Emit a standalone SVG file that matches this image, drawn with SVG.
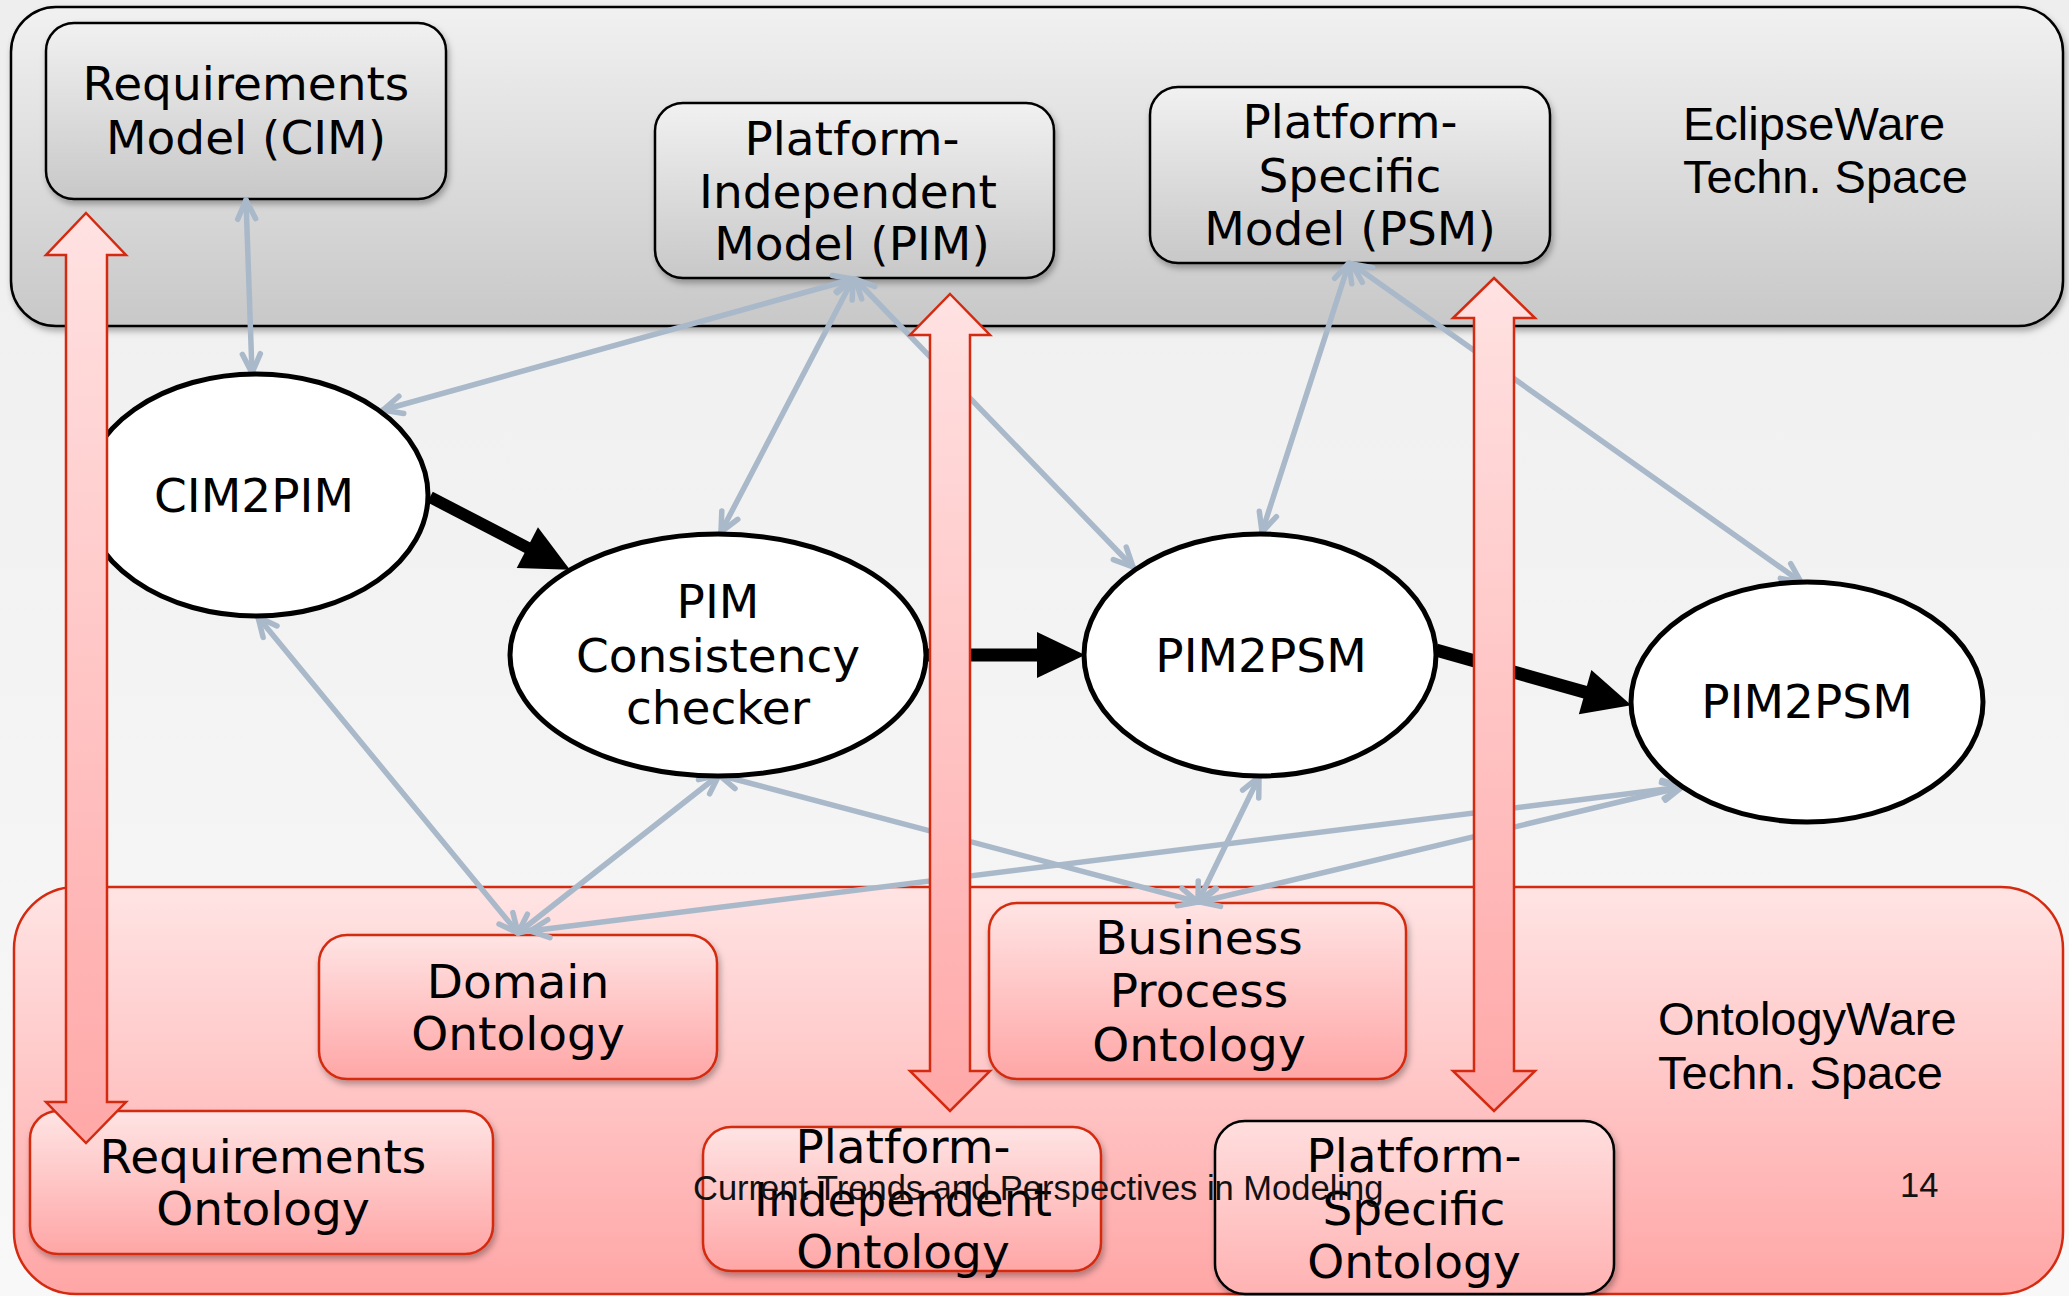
<svg xmlns="http://www.w3.org/2000/svg" width="2069" height="1296" viewBox="0 0 2069 1296">
  <defs>
    <linearGradient id="bg" x1="0" y1="0" x2="0" y2="1">
      <stop offset="0" stop-color="#eeeeee"/>
      <stop offset="1" stop-color="#f8f8f8"/>
    </linearGradient>
    <linearGradient id="grayFill" x1="0" y1="0" x2="0" y2="1">
      <stop offset="0" stop-color="#f1f1f1"/>
      <stop offset="1" stop-color="#c8c8c8"/>
    </linearGradient>
    <linearGradient id="pinkFill" x1="0" y1="0" x2="0" y2="1">
      <stop offset="0" stop-color="#ffe4e4"/>
      <stop offset="1" stop-color="#ffa6a6"/>
    </linearGradient>
    <linearGradient id="pinkSoft" x1="0" y1="0" x2="0" y2="1">
      <stop offset="0" stop-color="#ffdede"/>
      <stop offset="1" stop-color="#ffb2b2"/>
    </linearGradient>
    <linearGradient id="arrowFill" x1="0" y1="0" x2="0" y2="1">
      <stop offset="0" stop-color="#ffe2e2"/>
      <stop offset="1" stop-color="#ffa8a8"/>
    </linearGradient>
    <filter id="shadow" x="-5%" y="-5%" width="110%" height="115%">
      <feDropShadow dx="2" dy="4" stdDeviation="3" flood-color="#000" flood-opacity="0.3"/>
    </filter>
    <marker id="vee" viewBox="-4 -4 28 26" refX="19" refY="9" markerWidth="28" markerHeight="26" markerUnits="userSpaceOnUse" orient="auto-start-reverse" overflow="visible">
      <path d="M0,0 L19,9 L0,18" fill="none" stroke="#a9b9ca" stroke-width="5.5" stroke-linecap="round" stroke-linejoin="round"/>
    </marker>
    <marker id="bold" viewBox="0 0 48 46" refX="3" refY="23" markerWidth="48" markerHeight="46" markerUnits="userSpaceOnUse" orient="auto" overflow="visible">
      <path d="M0,0 L48,23 L0,46 z" fill="#000"/>
    </marker>
    <style>
      .panel-gray { fill: url(#grayFill); stroke: #000; stroke-width: 2.5; }
      .panel-pink { fill: url(#pinkFill); stroke: #d42a10; stroke-width: 2.5; }
      .box-gray { fill: url(#grayFill); stroke: #000; stroke-width: 2.5; filter: url(#shadow); }
      .box-pink { fill: url(#pinkFill); stroke: #d42a10; stroke-width: 2.5; filter: url(#shadow); }
      .box-pink-dark { fill: url(#pinkSoft); stroke: #000; stroke-width: 2.5; filter: url(#shadow); }
      .proc { fill: #ffffff; stroke: #000; stroke-width: 5; }
      .lbl { font-family: "DejaVu Sans", Verdana, sans-serif; font-size: 47px; fill: #000; text-anchor: middle; }
      .space { font-family: "Liberation Sans", Arial, sans-serif; font-size: 47px; fill: #000; }
      .foot { font-family: "Liberation Sans", Arial, sans-serif; font-size: 34.5px; fill: #111; }
      .link { stroke: #a9b9ca; stroke-width: 5.5; stroke-linecap: round; fill: none; marker-start: url(#vee); marker-end: url(#vee); }
      .flow { stroke: #000; fill: none; marker-end: url(#bold); }
      .bridge { fill: url(#arrowFill); stroke: #d42a10; stroke-width: 2.5; }
    </style>
  </defs>

  <!-- slide background -->
  <rect x="0" y="0" width="2069" height="1296" fill="url(#bg)"/>

  <!-- technical spaces -->
  <g id="eclipseware-space">
    <rect class="panel-gray" x="11" y="7" width="2052" height="319" rx="45" ry="45" filter="url(#shadow)"/>
    <text class="space" x="1683" y="140">EclipseWare</text>
    <text class="space" x="1683" y="193">Techn. Space</text>
  </g>
  <g id="ontologyware-space">
    <rect class="panel-pink" x="14" y="887" width="2049" height="407" rx="62" ry="62"/>
    <text class="space" x="1658" y="1035">OntologyWare</text>
    <text class="space" x="1658" y="1089">Techn. Space</text>
  </g>

  <!-- models -->
  <g id="requirements-model">
    <rect class="box-gray" x="46" y="23" width="400" height="176" rx="28" ry="28"/>
    <text class="lbl" x="246" y="100">Requirements</text>
    <text class="lbl" x="246" y="154">Model (CIM)</text>
  </g>
  <g id="pim-model">
    <rect class="box-gray" x="655" y="103" width="399" height="175" rx="28" ry="28"/>
    <text class="lbl" x="852" y="155">Platform-</text>
    <text class="lbl" x="848" y="208">Independent</text>
    <text class="lbl" x="852" y="260">Model (PIM)</text>
  </g>
  <g id="psm-model">
    <rect class="box-gray" x="1150" y="87" width="400" height="176" rx="28" ry="28"/>
    <text class="lbl" x="1350" y="138">Platform-</text>
    <text class="lbl" x="1350" y="192">Specific</text>
    <text class="lbl" x="1350" y="245">Model (PSM)</text>
  </g>

  <!-- ontologies -->
  <g id="domain-ontology">
    <rect class="box-pink" x="319" y="935" width="398" height="144" rx="28" ry="28"/>
    <text class="lbl" x="518" y="998">Domain</text>
    <text class="lbl" x="518" y="1050">Ontology</text>
  </g>
  <g id="business-process-ontology">
    <rect class="box-pink" x="989" y="903" width="417" height="176" rx="28" ry="28"/>
    <text class="lbl" x="1199" y="954">Business</text>
    <text class="lbl" x="1199" y="1007">Process</text>
    <text class="lbl" x="1199" y="1061">Ontology</text>
  </g>
  <g id="requirements-ontology">
    <rect class="box-pink" x="30" y="1111" width="463" height="143" rx="28" ry="28"/>
    <text class="lbl" x="263" y="1173">Requirements</text>
    <text class="lbl" x="263" y="1225">Ontology</text>
  </g>
  <g id="pi-ontology">
    <rect class="box-pink" x="703" y="1127" width="398" height="144" rx="28" ry="28"/>
    <text class="lbl" x="903" y="1163">Platform-</text>
    <text class="lbl" x="903" y="1216">Independent</text>
    <text class="lbl" x="903" y="1268">Ontology</text>
  </g>
  <g id="ps-ontology">
    <rect class="box-pink-dark" x="1215" y="1121" width="399" height="173" rx="30" ry="30"/>
    <text class="lbl" x="1414" y="1172">Platform-</text>
    <text class="lbl" x="1414" y="1225">Specific</text>
    <text class="lbl" x="1414" y="1278">Ontology</text>
  </g>

  <!-- relations between models, ontologies and transformations -->
  <g id="connectors">
    <line class="link" x1="246" y1="200" x2="252" y2="373"/>
    <line class="link" x1="853" y1="279" x2="383" y2="410"/>
    <line class="link" x1="853" y1="279" x2="721" y2="532"/>
    <line class="link" x1="855" y1="279" x2="1133" y2="567"/>
    <line class="link" x1="1349" y1="263" x2="1262" y2="532"/>
    <line class="link" x1="1352" y1="264" x2="1801" y2="582"/>
    <line class="link" x1="258" y1="617" x2="518" y2="933"/>
    <line class="link" x1="719" y1="775" x2="518" y2="933"/>
    <line class="link" x1="530" y1="931" x2="1682" y2="787"/>
    <line class="link" x1="719" y1="775" x2="1198" y2="902"/>
    <line class="link" x1="1259" y1="777" x2="1198" y2="902"/>
    <line class="link" x1="1682" y1="787" x2="1200" y2="902"/>

    <!-- transformation chain -->
    <line class="flow" stroke-width="12" x1="430" y1="497" x2="530" y2="549"/>
    <line class="flow" stroke-width="13" x1="926" y1="655" x2="1040" y2="655"/>
    <line class="flow" stroke-width="13" x1="1436" y1="650" x2="1588" y2="693"/>
  </g>

  <!-- transformations -->
  <g id="cim2pim">
    <ellipse class="proc" cx="256" cy="495" rx="172" ry="121"/>
    <text class="lbl" x="254" y="512">CIM2PIM</text>
  </g>
  <g id="pim-consistency-checker">
    <ellipse class="proc" cx="718" cy="655" rx="208" ry="121"/>
    <text class="lbl" x="718" y="618">PIM</text>
    <text class="lbl" x="718" y="672">Consistency</text>
    <text class="lbl" x="718" y="724">checker</text>
  </g>
  <g id="pim2psm-1">
    <ellipse class="proc" cx="1260" cy="655" rx="176" ry="121"/>
    <text class="lbl" x="1261" y="672">PIM2PSM</text>
  </g>
  <g id="pim2psm-2">
    <ellipse class="proc" cx="1807" cy="702" rx="176" ry="120"/>
    <text class="lbl" x="1807" y="718">PIM2PSM</text>
  </g>

  <!-- bridges between the technical spaces -->
  <g id="bridge-requirements">
    <polygon class="bridge" points="86,213 126,255 107,255 107,1102 126,1102 86,1143 46,1102 66,1102 66,255 46,255"/>
  </g>
  <g id="bridge-pim">
    <polygon class="bridge" points="950,294 990,335 970,335 970,1071 990,1071 950,1111 910,1071 930,1071 930,335 910,335"/>
  </g>
  <g id="bridge-psm">
    <polygon class="bridge" points="1494,278 1535,318 1514,318 1514,1071 1535,1071 1494,1111 1453,1071 1474,1071 1474,318 1453,318"/>
  </g>

  <!-- footer -->
  <text class="foot" x="693" y="1200">Current Trends and Perspectives in Modeling</text>
  <text class="foot" x="1900" y="1197" font-size="31">14</text>
</svg>
